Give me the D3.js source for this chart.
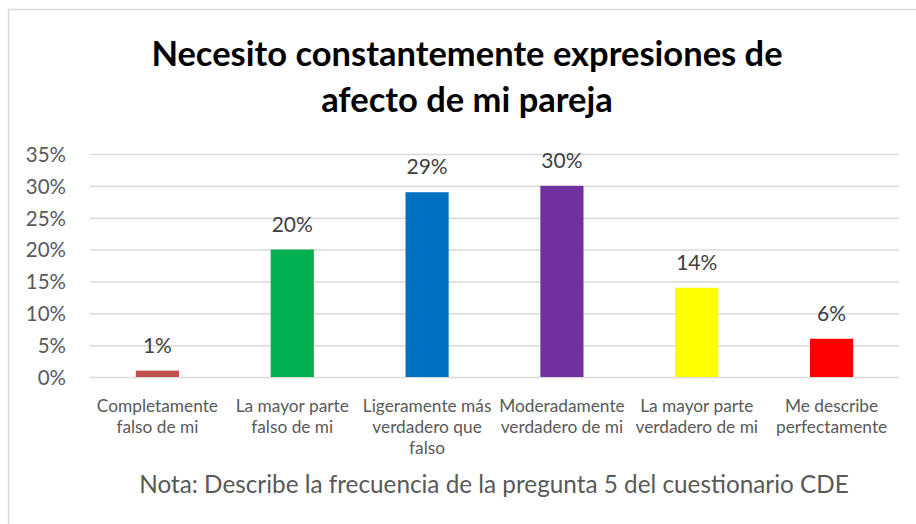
<!DOCTYPE html>
<html>
  <head>
    <meta charset="utf-8">
    <title>Necesito constantemente expresiones de afecto de mi pareja</title>
    <script src="https://d3js.org/d3.v7.min.js"></script>
    <style>
      body { margin: 0; background: #fff; }
      text { font-family: Lato, "Open Sans", sans-serif; }
    </style>
  </head>
  <body>
    <div id="chart"></div>
    <script>
      const categories = [
        ["Completamente", "falso de mi"],
        ["La mayor parte", "falso de mi"],
        ["Ligeramente más", "verdadero que", "falso"],
        ["Moderadamente", "verdadero de mi"],
        ["La mayor parte", "verdadero de mi"],
        ["Me describe", "perfectamente"]
      ];
      const values = [0.01, 0.20, 0.29, 0.30, 0.14, 0.06];
      const colors = ["#c0504d", "#00b050", "#0070c0", "#7030a0", "#ffff00", "#ff0000"];
      const yTicks = [0, 0.05, 0.10, 0.15, 0.20, 0.25, 0.30, 0.35];
      const titleLines = ["Necesito constantemente expresiones de", "afecto de mi pareja"];
      const note = "Nota: Describe la frecuencia de la pregunta 5 del cuestionario CDE";

      const width = 916;
      const height = 524;
      const margin = { top: 154, right: 17, bottom: 147, left: 90 };

      const svg = d3.select("#chart")
        .append("svg")
        .attr("width", width)
        .attr("height", height);

      // chart border
      svg.append("rect")
        .attr("x", 8.5)
        .attr("y", 9.5)
        .attr("width", width)
        .attr("height", height)
        .attr("fill", "none")
        .attr("stroke", "#d9d9d9")
        .attr("stroke-width", 1.5);

      svg.append("text")
        .attr("x", 467)
        .attr("y", 66)
        .attr("text-anchor", "middle")
        .attr("font-size", 34.5)
        .attr("font-weight", "bold")
        .attr("fill", "#000")
        .selectAll("tspan")
        .data(titleLines)
        .enter()
        .append("tspan")
        .attr("x", 467)
        .attr("dy", (d, i) => i === 0 ? 0 : 46)
        .text(d => d);

      const x = d3.scaleBand()
        .domain(d3.range(categories.length))
        .range([margin.left, width - margin.right])
        .paddingInner(0.68)
        .paddingOuter(0.34);

      const y = d3.scaleLinear()
        .domain([0, 0.35])
        .range([height - margin.bottom, margin.top]);

      const yAxis = d3.axisLeft(y)
        .tickValues(yTicks)
        .tickFormat(d3.format(".0%"))
        .tickSize(-(width - margin.right - margin.left))
        .tickPadding(24);

      const gy = svg.append("g")
        .attr("transform", "translate(" + margin.left + ",0)")
        .call(yAxis);
      gy.select(".domain").remove();
      gy.selectAll(".tick line")
        .attr("stroke", "#d9d9d9")
        .attr("stroke-width", 1.5);
      gy.selectAll(".tick text")
        .attr("fill", "#595959")
        .attr("font-size", 20.5)
        .attr("font-family", "Lato, sans-serif")
        .attr("dy", "0.36em");

      svg.selectAll(".bar")
        .data(values)
        .enter()
        .append("rect")
        .attr("class", "bar")
        .attr("x", (d, i) => x(i))
        .attr("y", d => y(d))
        .attr("width", x.bandwidth())
        .attr("height", d => y(0) - y(d))
        .attr("fill", (d, i) => colors[i]);

      svg.selectAll(".label")
        .data(values)
        .enter()
        .append("text")
        .attr("class", "label")
        .attr("x", (d, i) => x(i) + x.bandwidth() / 2)
        .attr("y", d => y(d) - 18)
        .attr("text-anchor", "middle")
        .attr("font-size", 21)
        .attr("fill", "#404040")
        .text(d => d3.format(".0%")(d));

      const cat = svg.selectAll(".cat")
        .data(categories)
        .enter()
        .append("text")
        .attr("class", "cat")
        .attr("text-anchor", "middle")
        .attr("y", 412)
        .attr("font-size", 17.3)
        .attr("fill", "#595959");
      cat.selectAll("tspan")
        .data((d, i) => d.map(t => ({ t: t, i: i })))
        .enter()
        .append("tspan")
        .attr("x", d => x(d.i) + x.bandwidth() / 2)
        .attr("dy", (d, j) => j === 0 ? 0 : 21)
        .text(d => d.t);

      svg.append("text")
        .attr("x", 494)
        .attr("y", 493)
        .attr("text-anchor", "middle")
        .attr("font-size", 24.3)
        .attr("fill", "#595959")
        .text(note);
    </script>
  </body>
</html>
